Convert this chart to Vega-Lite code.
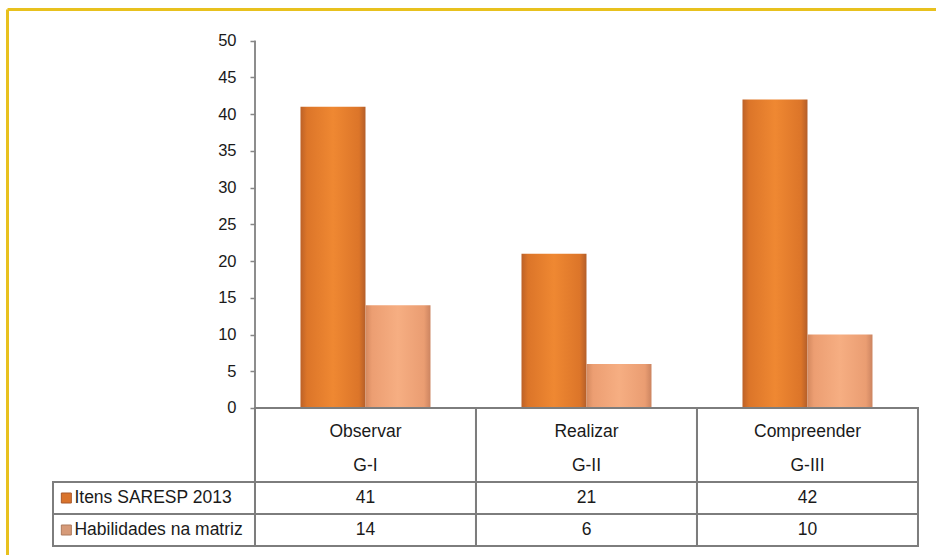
{
  "$schema": "https://vega.github.io/schema/vega-lite/v6.json",
  "width": 929,
  "height": 546,
  "autosize": "none",
  "padding": {"left": 7, "top": 9, "right": 0, "bottom": 0},
  "background": "white",
  "config": {
    "view": {"stroke": null},
    "font": "Liberation Sans",
    "text": {"font": "Liberation Sans", "fontSize": 17.5, "color": "#1a1a1a"}
  },
  "datasets": {
    "bars": [
      {"cat": "Observar", "series": "Itens SARESP 2013", "value": 41},
      {"cat": "Observar", "series": "Habilidades na matriz", "value": 14},
      {"cat": "Realizar", "series": "Itens SARESP 2013", "value": 21},
      {"cat": "Realizar", "series": "Habilidades na matriz", "value": 6},
      {"cat": "Compreender", "series": "Itens SARESP 2013", "value": 42},
      {"cat": "Compreender", "series": "Habilidades na matriz", "value": 10}
    ],
    "header": [
      {"cat": "Observar", "g": "G-I"},
      {"cat": "Realizar", "g": "G-II"},
      {"cat": "Compreender", "g": "G-III"}
    ],
    "series": [
      {"series": "Itens SARESP 2013"},
      {"series": "Habilidades na matriz"}
    ]
  },
  "resolve": {
    "scale": {"x": "independent", "y": "independent"},
    "axis": {"x": "independent", "y": "independent"}
  },
  "layer": [
    {
      "data": {"name": "bars"},
      "mark": {"type": "bar"},
      "encoding": {
        "x": {
          "field": "cat", "type": "nominal",
          "scale": {"domain": ["Observar", "Realizar", "Compreender"], "paddingInner": 0, "paddingOuter": 0.6018, "align": 0.9323},
          "axis": {"orient": "top", "labels": false, "ticks": false, "title": null, "domain": true, "domainColor": "#E8C11E", "domainWidth": 3}
        },
        "xOffset": {
          "field": "series", "type": "nominal",
          "scale": {"domain": ["Itens SARESP 2013", "Habilidades na matriz"], "paddingInner": 0, "paddingOuter": 0.7}
        },
        "y": {
          "field": "value", "type": "quantitative",
          "scale": {"domain": [-20.011, 54.315], "nice": false, "zero": false},
          "axis": {"orient": "left", "offset": 0, "labels": false, "ticks": false, "grid": false, "title": null, "domain": true, "domainColor": "#E8C11E", "domainWidth": 3}
        },
        "fill": {
          "condition": {
            "test": "datum.series === 'Itens SARESP 2013'",
            "value": {"gradient": "linear", "x1": 0, "x2": 1, "y1": 0, "y2": 0, "stops": [
              {"offset": 0, "color": "#BC6128"},
              {"offset": 0.1, "color": "#DC7529"},
              {"offset": 0.5, "color": "#EF8832"},
              {"offset": 0.9, "color": "#DC7529"},
              {"offset": 1, "color": "#B45E29"}
            ]}
          },
          "value": {"gradient": "linear", "x1": 0, "x2": 1, "y1": 0, "y2": 0, "stops": [
            {"offset": 0, "color": "#D4895F"},
            {"offset": 0.1, "color": "#EC9E72"},
            {"offset": 0.5, "color": "#F6AE82"},
            {"offset": 0.9, "color": "#EA9D72"},
            {"offset": 1, "color": "#CC8460"}
          ]}
        }
      }
    },
    {
      "data": {"name": "series"},
      "mark": {"type": "rule", "color": "#868686", "strokeWidth": 1.5},
      "encoding": {
        "x": {
          "datum": "Observar", "type": "nominal", "bandPosition": 0,
          "scale": {"domain": ["Observar", "Realizar", "Compreender"], "paddingInner": 0, "paddingOuter": 0.6018, "align": 0.9323},
          "axis": null
        },
        "y": {
          "datum": 0, "type": "quantitative",
          "scale": {"domain": [-20.011, 54.315], "nice": false, "zero": false},
          "axis": {"orient": "left", "offset": -248, "values": [0, 5, 10, 15, 20, 25, 30, 35, 40, 45, 50], "domain": false, "grid": false, "ticks": true, "tickSize": 5, "tickColor": "#868686", "tickWidth": 1.5, "labelPadding": 14, "labelFont": "Liberation Sans", "labelFontSize": 16.5, "labelColor": "#1a1a1a", "title": null}
        },
        "y2": {"datum": 50}
      }
    },
    {
      "data": {"name": "header"},
      "encoding": {
        "x": {
          "field": "cat", "type": "nominal",
          "scale": {"domain": ["Observar", "Realizar", "Compreender"], "paddingInner": 0, "paddingOuter": 0.6018, "align": 0.9323},
          "axis": null
        },
        "y": {
          "datum": "header", "type": "nominal",
          "scale": {"domain": ["header"], "range": [399, 473], "paddingInner": 0, "paddingOuter": 0},
          "axis": null
        }
      },
      "layer": [
        {"mark": {"type": "rect", "filled": false, "stroke": "#7d7d7d", "strokeWidth": 2}},
        {"mark": {"type": "text", "dy": -13, "baseline": "middle"}, "encoding": {"text": {"field": "cat"}}},
        {"mark": {"type": "text", "dy": 21, "baseline": "middle"}, "encoding": {"text": {"field": "g"}}}
      ]
    },
    {
      "data": {"name": "bars"},
      "encoding": {
        "x": {
          "field": "cat", "type": "nominal",
          "scale": {"domain": ["Observar", "Realizar", "Compreender"], "paddingInner": 0, "paddingOuter": 0.6018, "align": 0.9323},
          "axis": null
        },
        "y": {
          "field": "series", "type": "nominal",
          "scale": {"domain": ["Itens SARESP 2013", "Habilidades na matriz"], "range": [473, 537], "paddingInner": 0, "paddingOuter": 0},
          "axis": null
        }
      },
      "layer": [
        {"mark": {"type": "rect", "filled": false, "stroke": "#7d7d7d", "strokeWidth": 2}},
        {"mark": {"type": "text", "baseline": "middle"}, "encoding": {"text": {"field": "value", "type": "quantitative"}}}
      ]
    },
    {
      "data": {"name": "series"},
      "encoding": {
        "y": {
          "field": "series", "type": "nominal",
          "scale": {"domain": ["Itens SARESP 2013", "Habilidades na matriz"], "range": [473, 537], "paddingInner": 0, "paddingOuter": 0},
          "axis": null
        }
      },
      "layer": [
        {
          "mark": {"type": "rect", "filled": false, "stroke": "#7d7d7d", "strokeWidth": 2},
          "encoding": {
            "x": {"datum": "leg", "type": "nominal", "scale": {"domain": ["leg"], "range": [46, 248], "paddingInner": 0, "paddingOuter": 0}, "axis": null}
          }
        },
        {
          "mark": {"type": "square", "size": 100, "opacity": 1, "strokeWidth": 1},
          "encoding": {
            "x": {"datum": "leg", "type": "nominal", "bandPosition": 0.066, "scale": {"domain": ["leg"], "range": [46, 248], "paddingInner": 0, "paddingOuter": 0}, "axis": null},
            "fill": {"condition": {"test": "datum.series === 'Itens SARESP 2013'", "value": "#D9732C"}, "value": "#D69A78"},
            "stroke": {"condition": {"test": "datum.series === 'Itens SARESP 2013'", "value": "#A9582A"}, "value": "#AD7A5C"}
          }
        },
        {
          "mark": {"type": "text", "align": "left", "baseline": "middle"},
          "encoding": {
            "x": {"datum": "leg", "type": "nominal", "bandPosition": 0.106, "scale": {"domain": ["leg"], "range": [46, 248], "paddingInner": 0, "paddingOuter": 0}, "axis": null},
            "text": {"field": "series"}
          }
        }
      ]
    }
  ]
}
